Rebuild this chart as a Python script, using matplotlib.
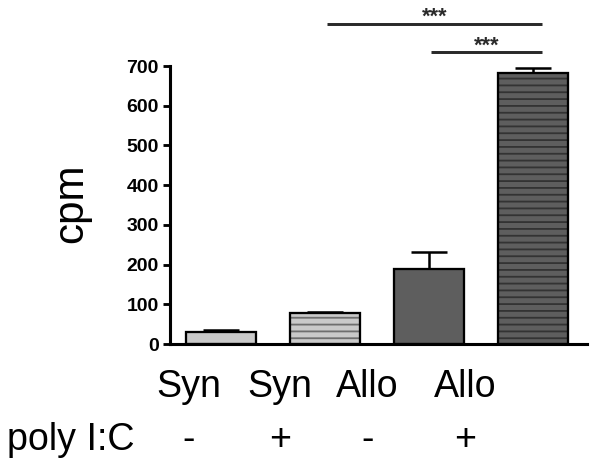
import matplotlib
matplotlib.use("Agg")
import matplotlib.pyplot as plt

# data
groups = ["Syn", "Syn", "Allo", "Allo"]
poly_ic = ["-", "+", "-", "+"]
cpm_mean = [31, 77, 189, 683]
cpm_err = [4, 4, 43, 11]
bar_faces = ["#c9c9c9", "#c9c9c9", "#5e5e5e", "#5e5e5e"]
bar_hatches = ["", "--", "", "--"]
hatch_colors = ["none", "#6e6e6e", "none", "#333333"]
y_ticks = [0, 100, 200, 300, 400, 500, 600, 700]

# significance brackets: (x start, x end, y, label)
sig_pairs = [(1.02, 3.09, 806, "***"), (2.02, 3.09, 735, "***")]

DPI = 82
plt.rcParams["font.family"] = ["Liberation Sans", "DejaVu Sans"]
plt.rcParams["hatch.linewidth"] = 1.6

fig = plt.figure(figsize=(602 / DPI, 476 / DPI), dpi=DPI)
ax = fig.add_axes([0.2824, 0.2773, 0.975 - 0.2824, 0.8613 - 0.2773])

x = list(range(len(cpm_mean)))
width = 0.67

# error bars (upper only)
ax.errorbar(x, cpm_mean, yerr=[[0] * len(cpm_err), cpm_err], fmt="none",
            ecolor="black", elinewidth=2.2, capsize=16, capthick=2.2, zorder=1)

# fill + hatch layer, then outline layer
for i in x:
    ax.bar(i, cpm_mean[i], width, color=bar_faces[i], linewidth=0, zorder=2)
    if bar_hatches[i]:
        ax.bar(i, cpm_mean[i], width, color="none", edgecolor=hatch_colors[i],
               hatch=bar_hatches[i], linewidth=0, zorder=3)
    ax.bar(i, cpm_mean[i], width, fill=False, edgecolor="black",
           linewidth=2.0, zorder=4)

ax.set_xlim(-0.49, 3.52)
ax.set_ylim(0, 700)
ax.set_yticks(y_ticks)
ax.set_yticklabels([str(t) for t in y_ticks], fontsize=17, fontweight="bold")
ax.set_xticks([])

for side in ["top", "right"]:
    ax.spines[side].set_visible(False)
for side in ["left", "bottom"]:
    ax.spines[side].set_linewidth(2.7)
ax.tick_params(axis="y", length=6, width=2.5, pad=4)

# significance bars above the plot
for x0, x1, y, lab in sig_pairs:
    ax.plot([x0, x1], [y, y], color="#2a2a2a", linewidth=2.6,
            clip_on=False, solid_capstyle="butt")
    ax.text((x0 + x1) / 2, y + 2, lab, ha="center", va="baseline",
            fontsize=19, fontweight="bold", color="#2a2a2a")

# y label
fig.text(0.118, 0.574, "cpm", rotation=90, ha="center", va="center",
         fontsize=37)

# category rows below the axis
label_x = [0.314, 0.465, 0.610, 0.772]
for lx, g, p in zip(label_x, groups, poly_ic):
    fig.text(lx, 0.166, g, ha="center", va="baseline", fontsize=33)
    fig.text(lx, 0.0546, p, ha="center", va="baseline", fontsize=33)
fig.text(0.012, 0.0546, "poly I:C", ha="left", va="baseline", fontsize=33)

fig.savefig("out.png", dpi=DPI)
